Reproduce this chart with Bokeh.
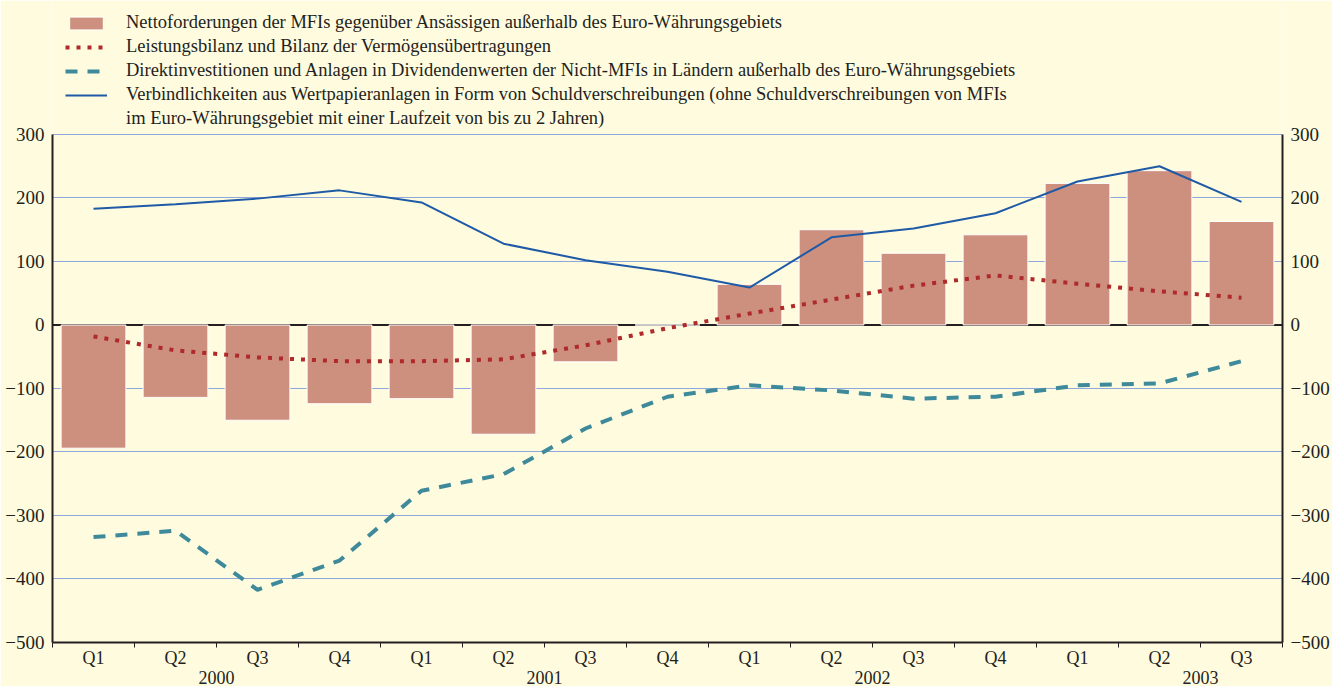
from bokeh.plotting import figure
from bokeh.models import Range1d, FixedTicker, LinearAxis, Span, Legend, LegendItem, Grid
from bokeh.embed import file_html
from bokeh.resources import INLINE

quarters = ["Q1", "Q2", "Q3", "Q4", "Q1", "Q2", "Q3", "Q4", "Q1", "Q2", "Q3", "Q4", "Q1", "Q2", "Q3"]
years = ["2000", "2001", "2002", "2003"]
net_mfi = [-194, -114, -150, -124, -116, -172, -58, 0, 64, 150, 113, 142, 223, 243, 163]
current_account = [-18, -40, -51, -57, -57, -54, -32, -5, 18, 40, 62, 78, 65, 53, 43]
direct_invest = [-334, -324, -417, -371, -261, -235, -163, -113, -95, -103, -116, -113, -95, -92, -57]
debt_liab = [183, 190, 199, 212, 193, 128, 102, 84, 59, 138, 152, 176, 226, 250, 194]
y_ticks = [-500, -400, -300, -200, -100, 0, 100, 200, 300]

labels = [
    "Nettoforderungen der MFIs gegenüber Ansässigen außerhalb des Euro-Währungsgebiets",
    "Leistungsbilanz und Bilanz der Vermögensübertragungen",
    "Direktinvestitionen und Anlagen in Dividendenwerten der Nicht-MFIs in Ländern außerhalb des Euro-Währungsgebiets",
    "Verbindlichkeiten aus Wertpapieranlagen in Form von Schuldverschreibungen (ohne Schuldverschreibungen von MFIs",
    "im Euro-Währungsgebiet mit einer Laufzeit von bis zu 2 Jahren)",
]

BG = "#FFFBDF"
TXT = "#231F20"
FONT = "Liberation Serif"
FS_Y = "19px"
FS_X = "18px"
FS_L = "18.5px"
C_BAR = "#CD8F7E"
C_CA = "#AF2A2A"
C_DI = "#3E8A9B"
C_DL = "#1E5AA5"

n = len(quarters)
x = [i + 0.5 for i in range(n)]
y_lo, y_hi = y_ticks[0], y_ticks[-1]

# the frame reaches up to the top of the page so the legend can sit above the plotted area
p = figure(width=1332, height=686, output_backend="svg", toolbar_location=None,
           x_range=Range1d(0, n), y_range=Range1d(y_lo, 511),
           x_axis_type=None, y_axis_type=None,
           min_border_left=52, min_border_right=45, min_border_top=0, min_border_bottom=0,
           background_fill_color=BG, border_fill_color=BG, outline_line_color=None)

p.add_layout(Grid(dimension=1, ticker=FixedTicker(ticks=y_ticks), bounds=(y_lo, y_hi),
                  grid_line_color="#8FA7DA", grid_line_width=1))

def yaxis(standoff):
    return LinearAxis(ticker=FixedTicker(ticks=y_ticks), bounds=(y_lo, y_hi),
                      axis_line_color=TXT, axis_line_width=2,
                      major_tick_out=0, major_tick_in=0, minor_tick_out=0, minor_tick_in=0,
                      major_label_standoff=standoff, major_label_text_font=FONT,
                      major_label_text_font_size=FS_Y, major_label_text_color=TXT)

p.add_layout(yaxis(8), "left")
p.add_layout(yaxis(8), "right")

xa = LinearAxis(ticker=FixedTicker(ticks=x, minor_ticks=list(range(n + 1))),
                major_label_overrides={xi: q for xi, q in zip(x, quarters)},
                axis_line_color=TXT, axis_line_width=2,
                major_tick_out=0, major_tick_in=0, minor_tick_out=5, minor_tick_in=0,
                minor_tick_line_color=TXT, minor_tick_line_width=1,
                major_label_standoff=0, major_label_text_font=FONT,
                major_label_text_font_size=FS_X, major_label_text_color=TXT)
year_pos = [4 * i + 2 for i in range(len(years))]
ya = LinearAxis(ticker=FixedTicker(ticks=year_pos),
                major_label_overrides={yp: yr for yp, yr in zip(year_pos, years)},
                axis_line_color=None, major_tick_line_color=None, minor_tick_line_color=None,
                major_tick_out=0, minor_tick_out=0,
                major_label_standoff=0, major_label_text_font=FONT,
                major_label_text_font_size=FS_X, major_label_text_color=TXT)
p.add_layout(xa, "below")
p.add_layout(ya, "below")

p.add_layout(Span(location=0, dimension="width", line_color=TXT, line_width=2, level="underlay"))

r_bar = p.vbar(x=x, top=net_mfi, bottom=0, width=0.79, fill_color=C_BAR,
               line_color="#FFFFFF", line_width=1)
r_ca = p.line(x, current_account, line_color=C_CA, line_width=4, line_dash="4 7")
r_di = p.line(x, direct_invest, line_color=C_DI, line_width=4, line_dash="12 10")
r_dl = p.line(x, debt_liab, line_color=C_DL, line_width=2)
r_dummy = p.line(x[:1], debt_liab[:1], line_alpha=0)

legend = Legend(items=[LegendItem(label=labels[0], renderers=[r_bar]),
                       LegendItem(label=labels[1], renderers=[r_ca]),
                       LegendItem(label=labels[2], renderers=[r_di]),
                       LegendItem(label=labels[3], renderers=[r_dl]),
                       LegendItem(label=labels[4], renderers=[r_dummy])],
                location=(13, 513), glyph_width=42, glyph_height=16, label_standoff=19,
                label_text_font=FONT, label_text_font_size=FS_L, label_text_color=TXT,
                label_height=20, spacing=3, padding=0, margin=0,
                border_line_color=None, background_fill_alpha=0)
p.add_layout(legend)

html = file_html(p, INLINE)
html = html.replace("<body>", '<body style="background-color:%s;">' % BG, 1)
open("out.html", "w").write(html)
